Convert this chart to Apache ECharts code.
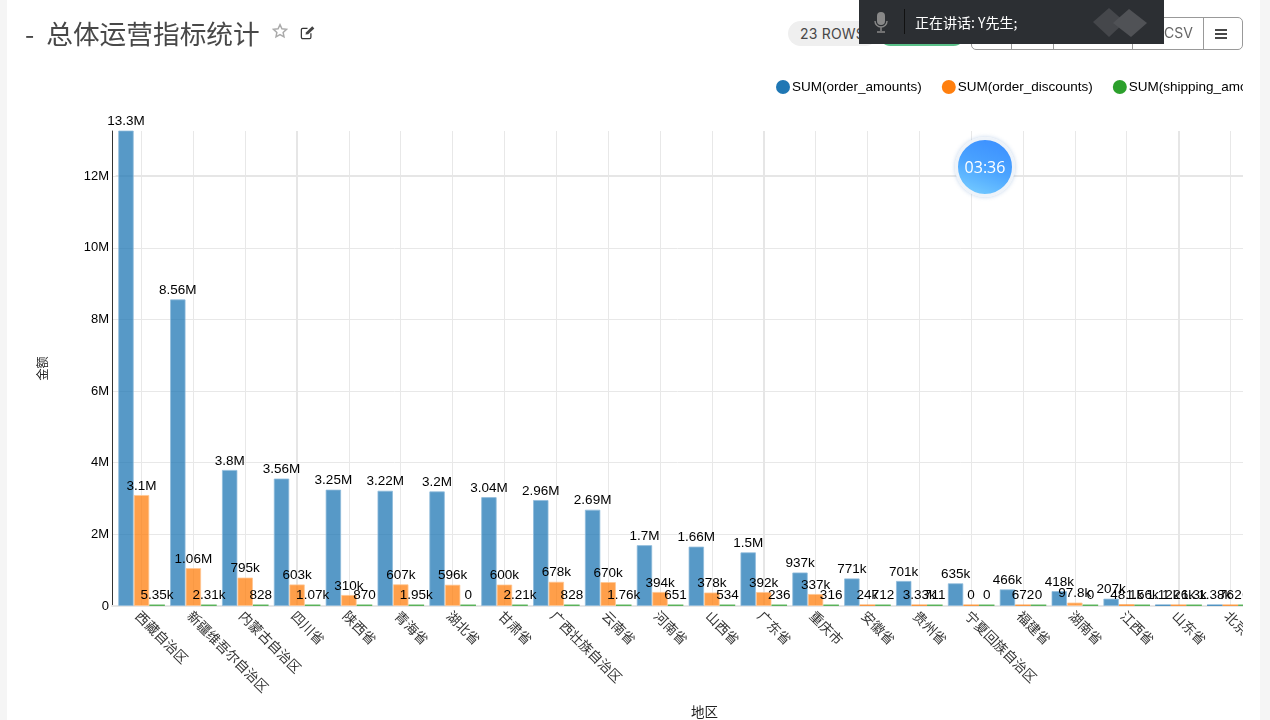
<!DOCTYPE html>
<html><head><meta charset="utf-8">
<script src="https://cdn.jsdelivr.net/npm/echarts@6/dist/echarts.min.js"></script>
<style>
html,body{margin:0;padding:0;width:1270px;height:720px;overflow:hidden;background:#f5f5f5;font-family:"Liberation Sans",Arial,sans-serif}
#card{position:absolute;left:7px;top:0;width:1253px;height:720px;background:#fff}
#chart{position:absolute;left:0;top:0;width:1243px;height:720px}
.abs{position:absolute}
#title{left:25px;top:15px;font:26.7px/36px "Noto Sans CJK SC",sans-serif;color:#484848;white-space:nowrap;word-spacing:6px}
#rows{left:788px;top:21px;width:90px;height:25px;border-radius:13px;background:#efefef;color:#484848;font:14px/25px Inter,"Open Sans",sans-serif;padding-left:12px;box-sizing:border-box;letter-spacing:.2px}
#green{left:878px;top:21px;width:88px;height:25px;border-radius:13px;background:#5ac189}
#btns{left:971px;top:17px;width:272px;height:33px;border:1px solid #999;border-radius:5px;box-sizing:border-box;background:#fff}
.div{position:absolute;top:0;width:1px;height:31px;background:#999}
#csv{left:1164px;top:24px;font:14px/18px Inter,"Open Sans",sans-serif;color:#666}
#ham{left:1215px;top:29px;width:12px;height:2px;background:#484848;box-shadow:0 4px 0 #484848,0 8px 0 #484848}
#bar{left:859px;top:0;width:305px;height:44px;background:#2c2f33}
#bar .sep{position:absolute;left:45px;top:9px;width:1px;height:25px;background:#111}
#bar .txt{position:absolute;left:56px;top:12px;font:14px/20px "Noto Sans CJK SC",sans-serif;color:#fff;white-space:nowrap}
#timer{left:955px;top:137px;width:54px;height:54px;border-radius:50%;border:3px solid #eef3f9;box-shadow:0 0 4px rgba(120,160,210,.45);background:linear-gradient(200deg,#3a8dff 0%,#4aa3ff 50%,#7ad0ff 100%);color:#fff;font:16px/54px "Open Sans",sans-serif;text-align:center}
</style></head>
<body>
<div id="card"></div>
<div id="chart" class="abs"></div>
<div id="title" class="abs">- 总体运营指标统计</div>
<svg class="abs" style="left:272px;top:23px" width="16" height="16" viewBox="0 0 24 24"><path d="M12 2.5l2.9 6.2 6.8.8-5 4.6 1.3 6.7-6-3.3-6 3.3 1.3-6.7-5-4.6 6.8-.8z" fill="none" stroke="#aaa" stroke-width="2.2"/></svg>
<svg class="abs" style="left:299px;top:25px" width="17" height="15" viewBox="0 0 24 22"><path d="M17 12v6a2 2 0 0 1-2 2H5a2 2 0 0 1-2-2V7a2 2 0 0 1 2-2h7" fill="none" stroke="#333" stroke-width="1.8"/><path d="M9 14l1-3.5L19 2l3 3-9 8.5z" fill="#444"/></svg>
<div id="rows" class="abs">23 ROWS</div>
<div id="green" class="abs"></div>
<div id="btns" class="abs">
<div class="div" style="left:39px"></div><div class="div" style="left:81px"></div><div class="div" style="left:160px"></div><div class="div" style="left:231px"></div>
</div>
<div id="csv" class="abs">CSV</div>
<div id="ham" class="abs"></div>
<div id="bar" class="abs">
<svg class="abs" style="left:15px;top:12px" width="14" height="21" viewBox="0 0 14 21"><rect x="3" y="0" width="8" height="13" rx="4" fill="#888"/><path d="M1 9a6 6 0 0 0 12 0M7 15v4M3 20h8" fill="none" stroke="#888" stroke-width="1.4"/></svg>
<div class="sep"></div>
<div class="txt">正在讲话: Y先生;</div>
<svg class="abs" style="left:232px;top:6px" width="58" height="32" viewBox="0 0 58 32"><path d="M18 2L34 16 18 31 2 16z" fill="#45474b"/><path d="M38 3L56 17 40 31 22 17z" fill="#505256"/></svg>
</div>
<div id="timer" class="abs">03:36</div>
<script>
const categories = ['西藏自治区','新疆维吾尔自治区','内蒙古自治区','四川省','陕西省','青海省','湖北省','甘肃省','广西壮族自治区','云南省','河南省','山西省','广东省','重庆市','安徽省','贵州省','宁夏回族自治区','福建省','湖南省','江西省','山东省','北京市'];
const orderAmounts = [13300000,8560000,3800000,3560000,3250000,3220000,3200000,3040000,2960000,2690000,1700000,1660000,1500000,937000,771000,701000,635000,466000,418000,207000,1120,1380];
const orderDiscounts = [3100000,1060000,795000,603000,310000,607000,596000,600000,678000,670000,394000,378000,392000,337000,24000,3330,0,672,97800,48100,1260,762];
const shippingAmounts = [5350,2310,828,1070,870,1950,0,2210,828,1760,651,534,236,316,712,711,0,0,0,1560,1300,0];
const seriesNames = ['SUM(order_amounts)','SUM(order_discounts)','SUM(shipping_amounts)'];
const seriesColors = ['#1f77b4','#ff7f0e','#2ca02c'];
const edgeColors = ['#8fbbdb','#ffc691','#2ca02c'];
const emphasisedCategories = ['四川省','广东省','山东省'];
const emphasisedValue = 12000000;

function fmt(v){
  if(v>=1e6) return parseFloat((v/1e6).toPrecision(3))+'M';
  if(v>=1e3) return parseFloat((v/1e3).toPrecision(3))+'k';
  return String(v);
}
const gridLine='#e8e8e8';
const chart=echarts.init(document.getElementById('chart'),null,{renderer:'canvas'});
const font='"Liberation Sans",Arial,sans-serif';
const cjk='"Noto Sans CJK SC",sans-serif';
const mk=(name,i,data)=>({
  name,type:'bar',xAxisIndex:1,yAxisIndex:1,
  data:data.map(v=>v<50000?{value:v,itemStyle:{borderWidth:0}}:v),
  barGap:0,barCategoryGap:'10%',barMinHeight:1.5,
  itemStyle:{color:seriesColors[i],opacity:.75,borderColor:edgeColors[i],borderWidth:1},
  label:{show:true,position:'top',distance:2,formatter:p=>fmt(p.value),fontFamily:font,fontSize:13.5,color:'#000',opacity:1},
  labelLayout:{hideOverlap:false},
  emphasis:{disabled:true},
  z:3,
  markLine:i===1?{silent:true,symbol:'none',z:1,label:{show:false},lineStyle:{color:'#e6e6e6',width:2,type:'solid',opacity:1},
    data:emphasisedCategories.map(c=>({xAxis:c})).concat([{yAxis:emphasisedValue}])}:undefined
});
const yBase={type:'value',min:0,max:13260000,interval:2000000};
const hiddenY=g=>Object.assign({},yBase,{gridIndex:g,axisLine:{show:false},axisTick:{show:false},axisLabel:{show:false},splitLine:{show:false}});
chart.setOption({
  animation:false,
  textStyle:{fontFamily:font},
  legend:{left:771,top:75,width:900,itemWidth:14,itemHeight:14,itemGap:20,icon:'circle',
    itemStyle:{opacity:1,borderWidth:0},
    textStyle:{fontFamily:font,fontSize:13.5,color:'#000',padding:[0,0,0,-3]},
    data:seriesNames},
  grid:[
    {left:112,top:131,width:1131,height:475,outerBoundsMode:'none'},
    {left:115.6,top:131,width:1140.7,height:475,outerBoundsMode:'none'},
    {left:141.5,top:131,width:1088.85,height:475,outerBoundsMode:'none'}
  ],
  xAxis:[
    {type:'value',gridIndex:0,min:0,max:1,axisLabel:{show:false},axisTick:{show:false},splitLine:{show:false},
     axisLine:{show:true,onZero:false,lineStyle:{color:'#e6e6e6',width:2}}},
    {type:'category',gridIndex:1,data:categories,
     axisLine:{show:false},
     axisTick:{show:false},
     splitLine:{show:false},
     axisLabel:{interval:0,rotate:-45,margin:11,padding:[0,0,0,-5],fontFamily:cjk,fontSize:13.5,color:'#333'}},
    {type:'category',gridIndex:2,data:categories,boundaryGap:false,
     axisLine:{show:false},axisTick:{show:false},axisLabel:{show:false},
     splitLine:{show:true,interval:0,lineStyle:{color:gridLine,width:1}}}
  ],
  yAxis:[
    Object.assign({},yBase,{gridIndex:0,
      axisLine:{show:true,lineStyle:{color:'#333',width:1}},axisTick:{show:false},
      axisLabel:{margin:3,fontFamily:font,fontSize:13,color:'#000',showMaxLabel:false,
        formatter:v=>v===0?'0':(v/1e6)+'M'},
      splitLine:{show:true,showMaxLine:false,showMinLine:false,lineStyle:{color:gridLine,width:1}},
      name:'金额',nameLocation:'middle',nameGap:64,nameRotate:90,
      nameTextStyle:{fontFamily:cjk,fontSize:12,color:'#222'}}),
    hiddenY(1),hiddenY(2)
  ],
  graphic:[{type:'text',left:691,top:705,style:{text:'地区',font:'13.5px "Noto Sans CJK SC",sans-serif',fill:'#222'}}],
  series:[mk(seriesNames[0],0,orderAmounts),mk(seriesNames[1],1,orderDiscounts),mk(seriesNames[2],2,shippingAmounts)]
});
</script>
</body></html>
